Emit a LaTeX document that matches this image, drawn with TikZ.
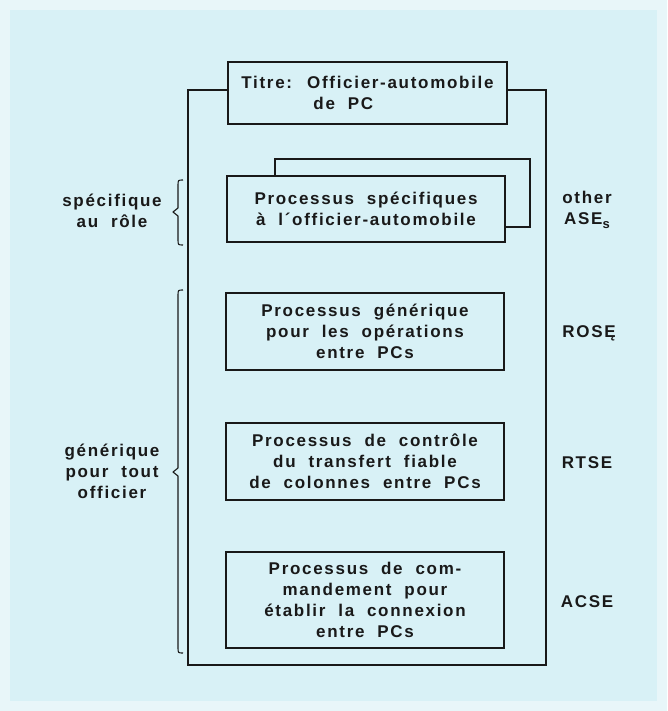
\documentclass[tikz,border=0pt]{standalone}
\usepackage{fontspec}
\setmainfont{Liberation Sans}[LetterSpace=10, WordSpace=2.0]
\definecolor{bgouter}{RGB}{232,246,249}
\definecolor{bgc}{RGB}{216,241,246}
\definecolor{ink}{RGB}{25,25,25}
\newcommand\lblfont{\fontsize{17}{21}\selectfont\bfseries}
\newcommand\mybrace[4]{% x, top, bottom, tip
  \draw[bracestyle] ({#1+5},#2) .. controls (#1,#2) .. (#1,{#2+6}) -- (#1,{#4-4}) -- ({#1-5},#4) -- (#1,{#4+4}) -- (#1,{#3-6}) .. controls (#1,#3) .. ({#1+5},#3);}
\begin{document}
\begin{tikzpicture}[x=1pt,y=-1pt,
  box/.style={draw=ink, line width=1.9pt, fill=bgc, align=center, inner sep=0pt, font=\lblfont, text=ink},
  framestyle/.style={draw=ink, line width=1.2pt},
  bracestyle/.style={draw=ink, line width=1.1pt, line join=round},
  lab/.style={align=center, font=\lblfont, text=ink, inner sep=0pt}]
\useasboundingbox (0,0) rectangle (667,711);
\fill[bgouter] (0,0) rectangle (667,711);
\fill[bgc] (10,10) rectangle (657,701);
% outer frame
\draw[framestyle] (188,90) rectangle (546,665);
% shadow of specific box
\draw[framestyle] (275,159) rectangle (530,227);
% boxes
\node[box, minimum width=279pt, minimum height=62pt, align=left] (title) at (367.5,93)
  {Titre: Officier-automobile\\\hspace*{72pt}de PC};
\node[box, minimum width=278pt, minimum height=66pt] (spec) at (366,209)
  {Processus spécifiques\\à l´officier-automobile};
\node[box, minimum width=278pt, minimum height=77pt] (rose) at (365,331.5)
  {Processus générique\\pour les opérations\\entre PCs};
\node[box, minimum width=278pt, minimum height=77pt] (rtse) at (365,461.5)
  {Processus de contrôle\\du transfert fiable\\de colonnes entre PCs};
\node[box, minimum width=278pt, minimum height=96pt] (acse) at (365,600)
  {Processus de com-\\mandement pour\\établir la connexion\\entre PCs};
% braces
\mybrace{178}{180}{245}{212}
\mybrace{178}{290}{653}{472}
% left labels
\node[lab] (lspec) at (112,211) {spécifique\\au rôle};
\node[lab] (lgen) at (112,471) {générique\\pour tout\\officier};
% right labels
\node[lab] (lother) at (587,210) {other\\ASE\raisebox{-4pt}{\fontsize{13}{13}\selectfont s}};
\node[lab] (lrose) at (589,333) {ROSĘ};
\node[lab] (lrtse) at (587,463) {RTSE};
\node[lab] (lacse) at (587,602) {ACSE};
\end{tikzpicture}
\end{document}
